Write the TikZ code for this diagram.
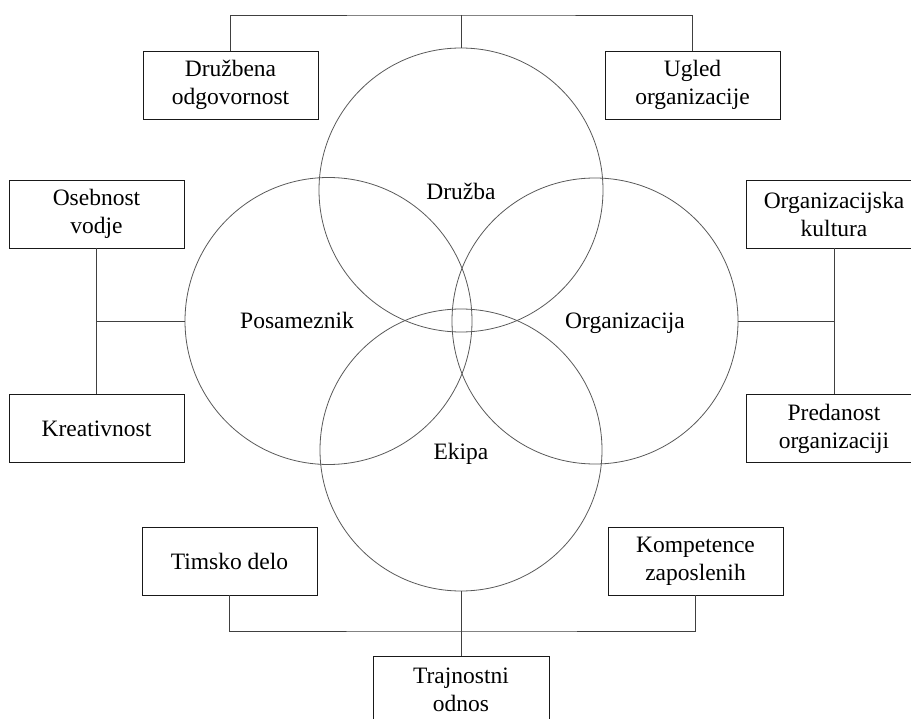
\documentclass[tikz,border=0pt]{standalone}
\usepackage{fontspec}
\setmainfont{Liberation Serif}
\begin{document}
\begin{tikzpicture}[x=1pt,y=-1pt,
  box/.style={draw=black!90, line width=0.8pt, rectangle, inner sep=0pt, outer sep=0pt,
    minimum width=175pt, minimum height=68pt, align=center,
    font=\fontsize{23.5}{28}\selectfont},
  ring/.style={draw=black!65, line width=0.8pt, circle, inner sep=0pt, outer sep=0pt},
  lbl/.style={font=\fontsize{23.5}{28}\selectfont, inner sep=0pt, anchor=base},
  link/.style={draw=black!75, line width=0.8pt}]
\useasboundingbox (0,0) rectangle (911,719);

% four overlapping circles
\node[ring, minimum size=284pt] (druzba) at (461,190) {};
\node[ring, minimum size=287pt] (posam)  at (328.5,321) {};
\node[ring, minimum size=286pt] (organ)  at (595,321) {};
\node[ring, minimum size=282pt] (ekipa)  at (461,450) {};

% circle labels, placed by their baselines
\node[lbl] (ldruzba) at (461,200) {Družba};
\node[lbl] (lposam)  at (297,329) {Posameznik};
\node[lbl] (lorgan)  at (625,329) {Organizacija};
\node[lbl] (lekipa)  at (461,459) {Ekipa};

% surrounding boxes
\node[box] (druzbena)   at (230.5,85)  {Družbena\\odgovornost};
\node[box] (ugled)      at (692.5,85)  {Ugled\\organizacije};
\node[box] (osebnost)   at (96.5,214)  {Osebnost\\vodje};
\node[box] (kreativnost) at (96.5,428.5) {Kreativnost};
\node[box, minimum width=176pt] (orgkult)   at (834,214.5) {Organizacijska\\kultura};
\node[box, minimum width=176pt] (predanost) at (834,428.5) {Predanost\\organizaciji};
\node[box] (timsko)     at (229.5,561) {Timsko delo};
\node[box] (kompet)     at (695.5,561) {Kompetence\\zaposlenih};
\node[box, minimum width=176pt] (trajn) at (461,690) {Trajnostni\\odnos};

% connectors
\coordinate (tophub) at (461,15);
\draw[link] (druzbena.north) |- (tophub) -| (ugled.north);
\draw[link] (tophub) -- (druzba.north);

\draw[link] (osebnost.south) -- (kreativnost.north);
\draw[link] (osebnost.south |- posam.west) -- (posam.west);

\draw[link] (orgkult.south) -- (predanost.north);
\draw[link] (organ.east) -- (orgkult.south |- organ.east);

\coordinate (bothub) at (461,631);
\draw[link] (timsko.south) |- (bothub) -| (kompet.south);
\draw[link] (ekipa.south) -- (trajn.north);
\end{tikzpicture}
\end{document}
